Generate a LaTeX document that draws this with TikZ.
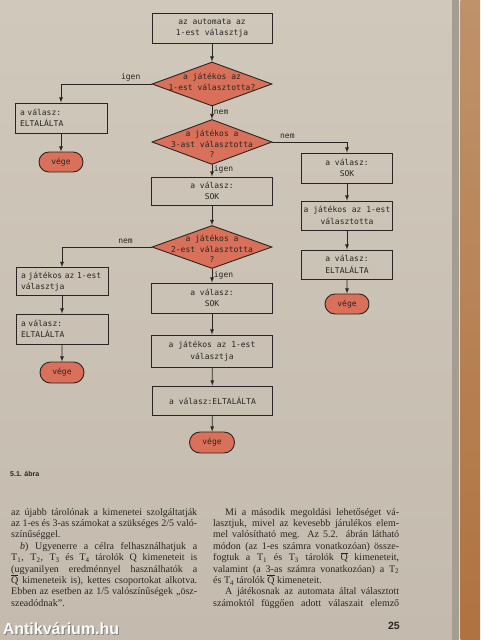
\documentclass[tikz,border=0pt]{standalone}
\usepackage{fontspec}
\setmainfont{Liberation Serif}
\setsansfont{Liberation Sans}
\newfontfamily\chartfont{DejaVu Sans Mono}
\usepackage{tikz}
\usetikzlibrary{arrows, shapes.geometric, shapes.misc}

\definecolor{paper}{HTML}{D0C8BA}
\definecolor{paperlow}{HTML}{C4BBAE}
\definecolor{salmon}{HTML}{D8705A}
\definecolor{ink}{HTML}{2A2522}
\definecolor{spine}{HTML}{A49E92}
\definecolor{wood}{HTML}{C0926A}
\definecolor{woodlow}{HTML}{B0723F}

\tikzset{box/.style={rectangle, draw = ink, line width = 0.9pt,
minimum height = 29pt, inner sep = 2pt, text = ink,
font = \chartfont\fontsize{8}{11.5}\selectfont}}
\tikzset{boxl/.style={box, text width = 82pt, inner xsep = 5pt, align = left}}
\tikzset{boxc/.style={box, minimum width = 121pt, align = center}}
\tikzset{boxr/.style={box, minimum width = 91pt, align = center}}
\tikzset{decision/.style={diamond, draw = ink, fill = salmon, line width = 0.9pt,
minimum width = 120pt, minimum height = 44pt, inner sep = 0pt}}
\tikzset{dtext/.style={text = ink, align = center,
font = \chartfont\fontsize{8}{10.5}\selectfont}}
\tikzset{terminal/.style={rounded rectangle, draw = ink, fill = salmon, line width = 0.9pt,
minimum width = 44pt, minimum height = 20pt, inner sep = 0pt, text = ink,
font = \chartfont\fontsize{8}{9}\selectfont}}
\tikzset{answer/.style={text = ink, inner sep = 1.5pt,
font = \chartfont\fontsize{8}{9}\selectfont}}
\tikzset{flow/.style={draw = ink, line width = 0.8pt, -latex}}
\tikzset{bodytext/.style={inner sep = 0pt, align = left, text = ink,
font = \fontsize{10}{11.4}\selectfont}}

\newlength{\colw}
\setlength{\colw}{186pt}
\newcommand{\fullline}[1]{\makebox[\colw][s]{#1}}
\newcommand{\lastline}[1]{\makebox[\colw][l]{#1}}
\newcommand{\Qbar}{$\overline{\hbox{Q}}$}

\begin{document}
\begin{tikzpicture}[x = 1pt, y = -1pt]
\useasboundingbox (0,0) rectangle (480,640);

% page and book edge
\shade [top color = paper, bottom color = paperlow] (0,0) rectangle (452,640);
\fill [spine] (452,0) rectangle (459,640);
\fill [paper!60!white] (459,0) rectangle (460.5,640);
\shade [top color = wood, bottom color = woodlow] (460.5,0) rectangle (480,640);

\node [boxc, minimum width = 120pt, minimum height = 30pt] (start) at (212, 28) {az automata az\\1-est választja};

\node [decision, label = {[dtext, yshift = 2pt]center:{a játékos az\\1-est választotta?}}] (q1) at (212, 84) {};
\node [decision, minimum height = 45pt, label = {[dtext, yshift = -2pt]center:{a játékos a\\3-ast választotta\\?}}] (q3) at (212, 142) {};
\node [decision, minimum height = 43pt, label = {[dtext, yshift = -2pt]center:{a játékos a\\2-est választotta\\?}}] (q2) at (212, 247) {};

\node [boxl, minimum height = 30pt] (hit1) at (61, 118) {a válasz:\\ELTALÁLTA};
\node [terminal] (end1) at (61, 162) {vége};

\node [boxr, minimum height = 30pt] (sok2) at (347, 168) {a válasz:\\SOK};
\node [boxr] (pick2) at (347, 215.5) {a játékos az 1-est\\választotta};
\node [boxr] (hit2) at (347, 264.5) {a válasz:\\ELTALÁLTA};
\node [terminal] (end2) at (347, 304) {vége};

\node [boxc, minimum height = 28pt] (sok1) at (212, 191) {a válasz:\\SOK};

\node [boxl, minimum height = 28pt] (pick1) at (62, 281.5) {a játékos az 1-est\\választja};
\node [boxl, minimum height = 30pt] (hit3) at (62, 329) {a válasz:\\ELTALÁLTA};
\node [terminal, minimum height = 21pt] (end3) at (62, 372.5) {vége};

\node [boxc, minimum height = 30pt] (sok3) at (212, 298) {a válasz:\\SOK};
\node [boxc, minimum height = 32pt] (pick3) at (212, 351) {a játékos az 1-est\\választja};
\node [boxc, minimum width = 120pt] (hit4) at (212.5, 400.5) {a válasz:ELTALÁLTA};
\node [terminal, minimum width = 45pt, minimum height = 21pt] (end4) at (212, 442.5) {vége};

\draw [flow] (start) -- (q1);
\draw [flow] (q1.west) -| node [answer, above = 1pt, pos = 0.115] {igen} (hit1.north);
\draw [flow] (hit1) -- (end1);
\draw [flow] (q1) -- node [answer, right] {nem} (q3);

\draw [flow] (q3.east) -| node [answer, above = 1pt, pos = 0.1] {nem} (sok2.north);
\draw [flow] (sok2) -- (pick2);
\draw [flow] (pick2) -- (hit2);
\draw [flow] (hit2) -- (end2);

\draw [flow] (q3) -- node [answer, right, pos = 0.4] {igen} (sok1);
\draw [flow] (sok1) -- (q2);

\draw [flow] (q2.west) -| node [answer, above = 1pt, pos = 0.145] {nem} (pick1.north);
\draw [flow] (pick1) -- (hit3);
\draw [flow] (hit3) -- (end3);

\draw [flow] (q2) -- node [answer, right] {igen} (sok3);
\draw [flow] (sok3) -- (pick3);
\draw [flow] (pick3) -- (hit4);
\draw [flow] (hit4) -- (end4);

% caption and page text
\node [anchor = west, inner sep = 0pt, text = ink, font = \sffamily\bfseries\fontsize{7}{8}\selectfont] (caption) at (10, 474) {5.1. ábra};

\node [bodytext, anchor = north west] (leftcol) at (11, 508) {%
\fullline{az újabb tárolónak a kimenetei szolgáltatják}\\
\fullline{az 1-es és 3-as számokat a szükséges 2/5 való-}\\
\lastline{színűséggel.}\\
\fullline{\hspace*{9pt}\textit{b}) Ugyenerre a célra felhasználhatjuk a}\\
\fullline{T\textsubscript{1}, T\textsubscript{2}, T\textsubscript{3} és T\textsubscript{4} tárolók Q kimeneteit is}\\
\fullline{(ugyanilyen eredménnyel használhatók a}\\
\fullline{\Qbar{} kimeneteik is), kettes csoportokat alkotva.}\\
\fullline{Ebben az esetben az 1/5 valószínűségek „ösz-}\\
\lastline{szeadódnak”.}};

\node [bodytext, anchor = north west] (rightcol) at (213, 508) {%
\fullline{\hspace*{12pt}Mi a második megoldási lehetőséget vá-}\\
\fullline{lasztjuk, mivel az kevesebb járulékos elem-}\\
\fullline{mel valósítható meg. Az 5.2. ábrán látható}\\
\fullline{módon (az 1-es számra vonatkozóan) össze-}\\
\fullline{fogtuk a T\textsubscript{1} és T\textsubscript{3} tárolók \Qbar{} kimeneteit,}\\
\fullline{valamint (a 3-as számra vonatkozóan) a T\textsubscript{2}}\\
\lastline{és T\textsubscript{4} tárolók \Qbar{} kimeneteit.}\\
\fullline{\hspace*{12pt}A játékosnak az automata által választott}\\
\fullline{számoktól függően adott válaszait elemző}};

\node [anchor = east, inner sep = 0pt, text = ink, font = \sffamily\bfseries\fontsize{10.5}{12}\selectfont] (pageno) at (400, 626) {25};

\node [text = black!55, opacity = 0.8, font = \sffamily\bfseries\fontsize{16}{18}\selectfont] (markshadow) at (62, 630) {Antikvárium.hu};
\node [text = white!92!paper, font = \sffamily\bfseries\fontsize{16}{18}\selectfont] (mark) at (61, 629) {Antikvárium.hu};

\end{tikzpicture}
\end{document}
